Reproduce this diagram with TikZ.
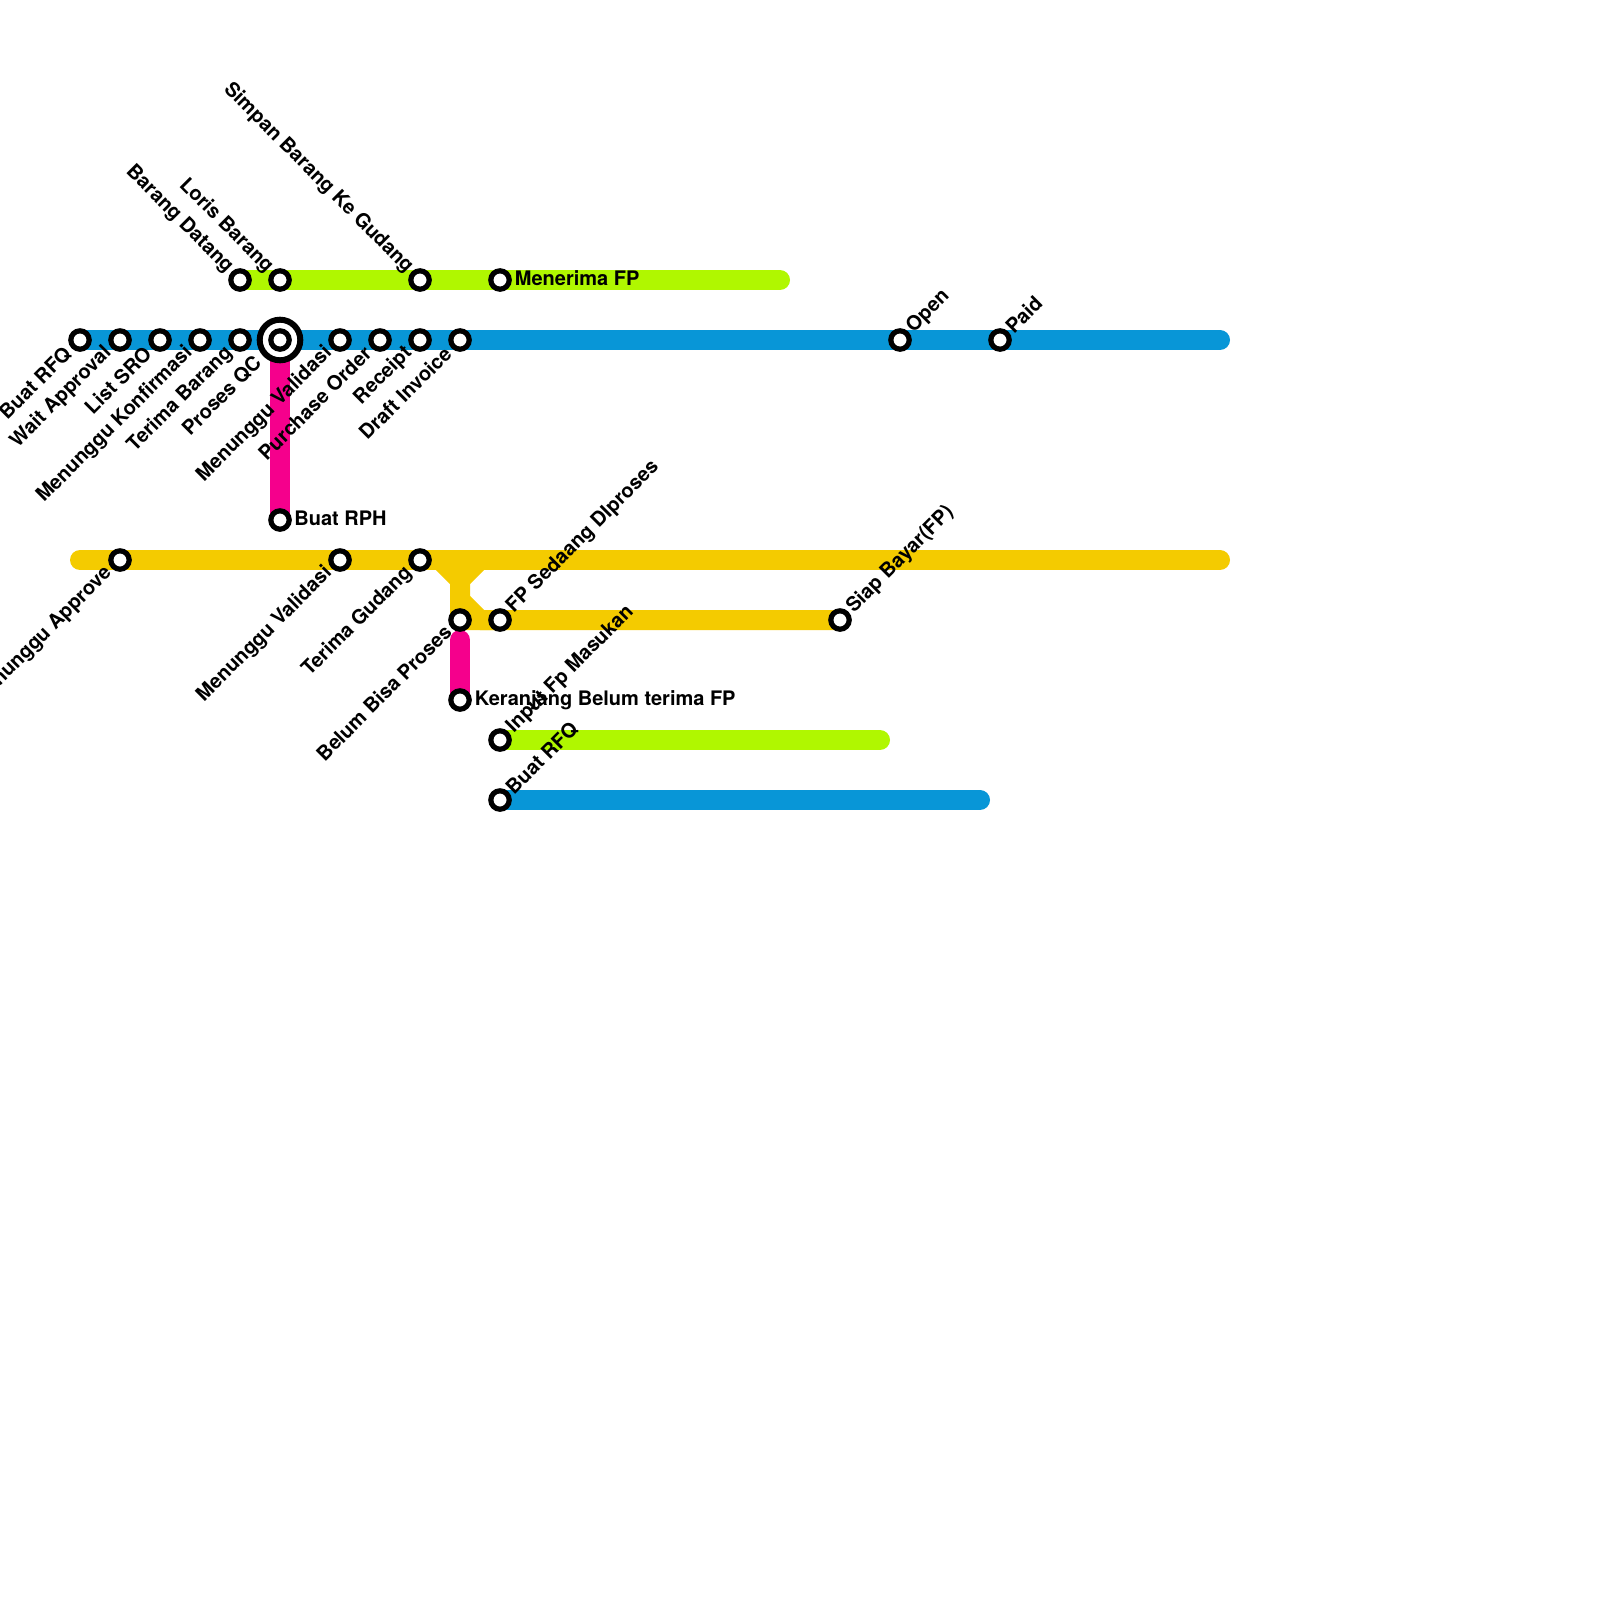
\documentclass[tikz,border=0pt]{standalone}
\usepackage{fontspec}
\setmainfont{TeX Gyre Heros}
\definecolor{lblue}{HTML}{0896D7}
\definecolor{lgreen}{HTML}{B0F700}
\definecolor{lyellow}{HTML}{F4CB00}
\definecolor{lpink}{HTML}{F5008C}
\pgfdeclarelayer{lines}
\pgfsetlayers{lines,main}
\tikzset{
  metro/.style={line width=10pt,line cap=round,line join=round},
  st/.style={circle,draw=black,fill=white,line width=2.6pt,minimum size=9.2pt,inner sep=0pt},
  hub/.style={circle,draw=black,fill=white,line width=3pt,minimum size=20.3pt,inner sep=0pt},
  lab/.style={inner sep=0pt,font=\fontsize{10}{12}\selectfont\bfseries,text=black},
  dl/.style={lab,rotate=45,anchor=east},
  ul/.style={lab,rotate=-45,anchor=east},
  ur/.style={lab,rotate=45,anchor=west},
  rt/.style={lab,anchor=west}
}
\begin{document}
\begin{tikzpicture}[x=0.5pt,y=-0.5pt]
\useasboundingbox (0,0) rectangle (1600,1600);
\clip (0,0) rectangle (1600,1600);
% line ends
\coordinate (bs) at (80,340);
\coordinate (be) at (1220,340);
\coordinate (ge) at (780,280);
\coordinate (ys) at (80,560);
\coordinate (ye) at (1220,560);
\coordinate (j1) at (440,560);
\coordinate (j2) at (480,560);
\coordinate (j3) at (460,580);
\coordinate (j4) at (460,600);
\coordinate (j5) at (480,620);
\coordinate (p2s) at (460,640);
\coordinate (g2e) at (880,740);
\coordinate (b2e) at (980,800);
% stations
\node[hub] (hubqc) at (280,340) {};
\node[st] (b1) at (80,340) {};
\node[st] (b2) at (120,340) {};
\node[st] (b3) at (160,340) {};
\node[st] (b4) at (200,340) {};
\node[st] (b5) at (240,340) {};
\node[st] (b6) at (280,340) {};
\node[st] (b7) at (340,340) {};
\node[st] (b8) at (380,340) {};
\node[st] (b9) at (420,340) {};
\node[st] (b10) at (460,340) {};
\node[st] (b11) at (900,340) {};
\node[st] (b12) at (1000,340) {};
\node[st] (g1) at (240,280) {};
\node[st] (g2) at (280,280) {};
\node[st] (g3) at (420,280) {};
\node[st] (g4) at (500,280) {};
\node[st] (p1) at (280,520) {};
\node[st] (y1) at (120,560) {};
\node[st] (y2) at (340,560) {};
\node[st] (y3) at (420,560) {};
\node[st] (y4) at (460,620) {};
\node[st] (y5) at (500,620) {};
\node[st] (y6) at (840,620) {};
\node[st] (p2) at (460,700) {};
\node[st] (g5) at (500,740) {};
\node[st] (b13) at (500,800) {};
% lines (behind the stations)
\begin{pgfonlayer}{lines}
\draw[metro,lpink] (b6.center) -- (p1.center);
\draw[metro,lyellow] (ys) -- (ye);
\draw[metro,lyellow] (j1) -- (j3) -- (y4.center) -- (y5.center);
\draw[metro,lyellow] (j2) -- (j3);
\draw[metro,lyellow] (j4) -- (j5) -- (y6.center);
\draw[metro,lpink] (p2s) -- (p2.center);
\draw[metro,lblue] (bs) -- (be);
\draw[metro,lgreen] (g1.center) -- (ge);
\draw[metro,lgreen] (g5.center) -- (g2e);
\draw[metro,lblue] (b13.center) -- (b2e);
\end{pgfonlayer}
% labels
\node[dl] (l1) at (68,350) {Buat RFQ};
\node[dl] (l2) at (108.5,350) {Wait Approval};
\node[dl] (l3) at (148,350) {List SRO};
\node[dl] (l4) at (189.5,350) {Menunggu Konfirmasi};
\node[dl] (l5) at (229.5,350) {Terima Barang};
\node[dl] (l6) at (258,359) {Proses QC};
\node[dl] (l7) at (329,350) {Menunggu Validasi};
\node[dl] (l8) at (368,350) {Purchase Order};
\node[dl] (l9) at (409,350) {Receipt};
\node[dl] (l10) at (448,350) {Draft Invoice};
\node[ur] (l11) at (910,330) {Open};
\node[ur] (l12) at (1008.5,330) {Paid};
\node[ul] (l13) at (230,270) {Barang Datang};
\node[ul] (l14) at (270,270) {Loris Barang};
\node[ul] (l15) at (410,270) {Simpan Barang Ke Gudang};
\node[rt] (l16) at (514.5,278) {Menerima FP};
\node[rt] (l17) at (294,518) {Buat RPH};
\node[dl] (l18) at (109,570) {Menunggu Approve};
\node[dl] (l19) at (329,570) {Menunggu Validasi};
\node[dl] (l20) at (409,570) {Terima Gudang};
\node[dl] (l21) at (448,628.5) {Belum Bisa Proses};
\node[ur] (l22) at (510,610) {FP Sedaang DIproses};
\node[ur] (l23) at (850,610) {Siap Bayar(FP)};
\node[rt] (l24) at (474.5,700) {Keranjang Belum terima FP};
\node[ur] (l25) at (510,730) {Input Fp Masukan};
\node[ur] (l26) at (509,791) {Buat RFQ};
\end{tikzpicture}
\end{document}
